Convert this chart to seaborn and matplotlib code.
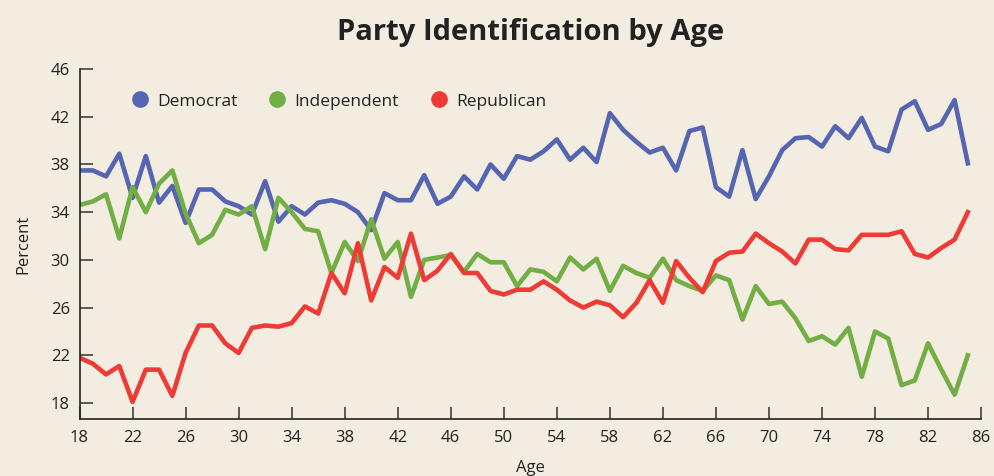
import numpy as np
import pandas as pd
import seaborn as sns
import matplotlib.pyplot as plt
from matplotlib.lines import Line2D

# ages 18..85
ages = list(range(18, 86))

democrat = [37.5, 37.5, 37.0, 38.9, 35.2, 38.7, 34.8, 36.2, 33.1, 35.9,
            35.9, 34.9, 34.5, 33.8, 36.6, 33.2, 34.5, 33.8, 34.8, 35.0,
            34.7, 34.0, 32.5, 35.6, 35.0, 35.0, 37.1, 34.7, 35.3, 37.0,
            35.9, 38.0, 36.8, 38.7, 38.4, 39.1, 40.1, 38.4, 39.4, 38.2,
            42.3, 40.9, 39.9, 39.0, 39.4, 37.5, 40.8, 41.1, 36.1, 35.3,
            39.2, 35.1, 37.0, 39.2, 40.2, 40.3, 39.5, 41.2, 40.2, 41.9,
            39.5, 39.1, 42.6, 43.3, 40.9, 41.4, 43.4, 38.1]

independent = [34.6, 34.9, 35.5, 31.8, 36.1, 34.0, 36.4, 37.5, 33.9, 31.4,
               32.1, 34.2, 33.8, 34.5, 30.9, 35.2, 34.0, 32.6, 32.4, 28.9,
               31.5, 29.9, 33.4, 30.1, 31.5, 26.9, 30.0, 30.2, 30.4, 29.0,
               30.5, 29.8, 29.8, 27.8, 29.2, 29.0, 28.2, 30.2, 29.2, 30.1,
               27.4, 29.5, 28.9, 28.5, 30.1, 28.3, 27.8, 27.4, 28.7, 28.3,
               25.0, 27.8, 26.3, 26.5, 25.1, 23.2, 23.6, 22.9, 24.3, 20.2,
               24.0, 23.4, 19.5, 19.9, 23.0, 20.8, 18.7, 22.0]

republican = [21.8, 21.3, 20.4, 21.1, 18.1, 20.8, 20.8, 18.6, 22.2, 24.5,
              24.5, 23.0, 22.2, 24.3, 24.5, 24.4, 24.7, 26.1, 25.5, 28.9,
              27.2, 31.4, 26.6, 29.4, 28.5, 32.2, 28.3, 29.1, 30.5, 28.9,
              28.9, 27.4, 27.1, 27.5, 27.5, 28.2, 27.5, 26.6, 26.0, 26.5,
              26.2, 25.2, 26.4, 28.3, 26.4, 29.9, 28.5, 27.3, 29.9, 30.6,
              30.7, 32.2, 31.4, 30.7, 29.7, 31.7, 31.7, 30.9, 30.8, 32.1,
              32.1, 32.1, 32.4, 30.5, 30.2, 31.0, 31.7, 34.0]

parties = ["Democrat", "Independent", "Republican"]
colors = ["#5565b1", "#72ae44", "#ee3b36"]
x_ticks = list(range(18, 87, 4))
y_ticks = list(range(18, 47, 4))

df = pd.DataFrame({
    "Age": ages * 3,
    "Percent": democrat + independent + republican,
    "Party": [p for p in parties for _ in ages],
})

bg = "#f2ede0"
plt.rcParams["font.family"] = ["Open Sans", "DejaVu Sans"]

fig = plt.figure(figsize=(9.94, 4.76), dpi=100, facecolor=bg)
ax = fig.add_axes([0.0800, 0.1197, 0.9070, 0.7353])
ax.set_facecolor(bg)

sns.lineplot(data=df, x="Age", y="Percent", hue="Party", palette=colors,
             linewidth=3.3, legend=False, ax=ax)

ax.set_xlim(18, 86)
ax.set_ylim(16.66, 46)
ax.set_xticks(x_ticks)
ax.set_yticks(y_ticks)
for s in ["top", "right"]:
    ax.spines[s].set_visible(False)
for s in ["left", "bottom"]:
    ax.spines[s].set_color("#222222")
    ax.spines[s].set_linewidth(1.2)
ax.tick_params(axis="both", direction="in", length=9, width=1.1,
               color="#333333", labelsize=12, labelcolor="#222222")
ax.tick_params(axis="x", pad=8)
ax.tick_params(axis="y", pad=7)

ax.set_xlabel("Age", fontsize=12, color="#222222", labelpad=10)
ax.set_ylabel("Percent", fontsize=12, color="#222222", labelpad=14)
ax.set_title("Party Identification by Age", fontsize=21, fontweight="bold",
             color="#222222", pad=21)

handles = [Line2D([], [], marker="o", linestyle="", markersize=11,
                  markerfacecolor=c, markeredgecolor=c) for c in colors]
ax.legend(handles, parties, loc="upper left", bbox_to_anchor=(0.03, 0.975),
          ncol=3, frameon=False, fontsize=12.5, handletextpad=0.0,
          columnspacing=1.3, labelcolor="#222222")

fig.savefig("out.png", dpi=100, facecolor=bg)
